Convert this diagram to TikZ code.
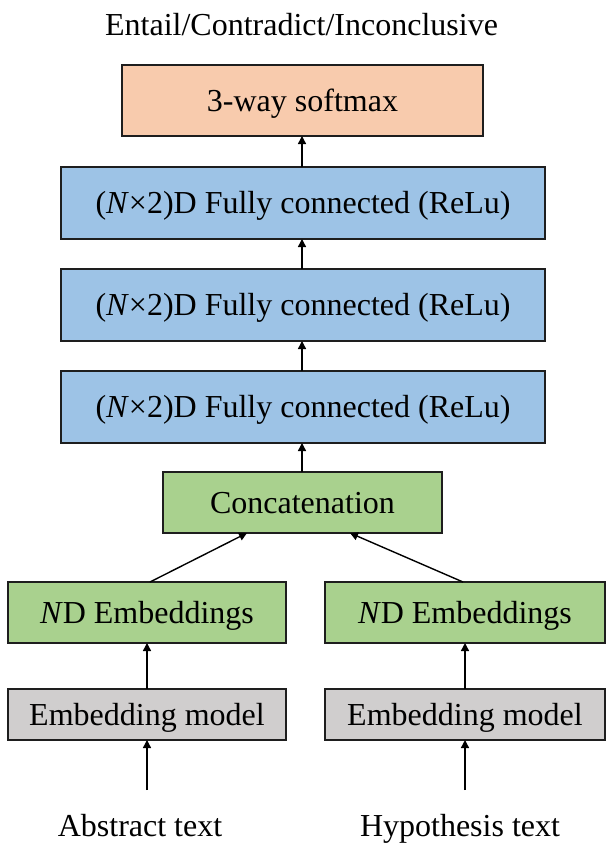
\documentclass[tikz,border=0pt]{standalone}
\usepackage{fontspec}
\setmainfont{Liberation Serif}
\usetikzlibrary{arrows.meta}
\definecolor{peach}{HTML}{F8CBAD}
\definecolor{skyblue}{HTML}{9DC3E6}
\definecolor{leafgreen}{HTML}{A9D18E}
\definecolor{lightgray}{HTML}{D0CECE}
\definecolor{edgeblack}{HTML}{1E1E1E}
\begin{document}
\begin{tikzpicture}[x=1pt,y=-1pt,
  font=\fontsize{32}{38}\selectfont,
  boxnode/.style={draw=edgeblack,line width=1.6pt,inner sep=0pt,outer sep=0pt,
    text height=21.2pt,text depth=0pt,anchor=center},
  label text/.style={inner sep=0pt,anchor=base},
  flow/.style={draw=black,line width=1.4pt,-{Triangle[length=8pt,width=8pt]}}]
\useasboundingbox (0,0) rectangle (612,846);
\coordinate (spine) at (302,0);
\coordinate (leftx) at (147,0);
\coordinate (rightx) at (465,0);
\node[label text] (title) at (301.5,35) {Entail/Contradict/Inconclusive};
\node[boxnode,fill=peach,minimum width=361pt,minimum height=71pt] (soft) at (302.5,100.5) {3-way softmax};
\node[boxnode,fill=skyblue,minimum width=484pt,minimum height=72pt] (fc1) at (303,203) {(\textit{N}×2)D Fully connected (ReLu)};
\node[boxnode,fill=skyblue,minimum width=484pt,minimum height=72pt] (fc2) at (303,305) {(\textit{N}×2)D Fully connected (ReLu)};
\node[boxnode,fill=skyblue,minimum width=484pt,minimum height=72pt] (fc3) at (303,407) {(\textit{N}×2)D Fully connected (ReLu)};
\node[boxnode,fill=leafgreen,minimum width=279pt,minimum height=61pt] (concat) at (302.5,502.5) {Concatenation};
\node[boxnode,fill=leafgreen,minimum width=278pt,minimum height=61pt] (ndl) at (147,612.5) {\textit{N}D Embeddings};
\node[boxnode,fill=leafgreen,minimum width=280pt,minimum height=61pt] (ndr) at (465,612.5) {\textit{N}D Embeddings};
\node[boxnode,fill=lightgray,minimum width=278pt,minimum height=51pt] (embl) at (147,714.5) {Embedding model};
\node[boxnode,fill=lightgray,minimum width=280pt,minimum height=51pt] (embr) at (465,714.5) {Embedding model};
\node[label text] (abs) at (140,836) {Abstract text};
\node[label text] (hyp) at (460,836) {Hypothesis text};
\coordinate (absin) at (147,790);
\coordinate (hypin) at (465,790);
\coordinate (ndlout) at (150,582);
\coordinate (ndrout) at (463,582);
\coordinate (cin1) at (247,533);
\coordinate (cin2) at (350,533);
\draw[flow] (absin) -- (embl.south -| leftx);
\draw[flow] (hypin) -- (embr.south -| rightx);
\draw[flow] (embl.north -| leftx) -- (ndl.south -| leftx);
\draw[flow] (embr.north -| rightx) -- (ndr.south -| rightx);
\draw[flow] (ndlout) -- (cin1);
\draw[flow] (ndrout) -- (cin2);
\draw[flow] (concat.north -| spine) -- (fc3.south -| spine);
\draw[flow] (fc3.north -| spine) -- (fc2.south -| spine);
\draw[flow] (fc2.north -| spine) -- (fc1.south -| spine);
\draw[flow] (fc1.north -| spine) -- (soft.south -| spine);
\end{tikzpicture}
\end{document}
